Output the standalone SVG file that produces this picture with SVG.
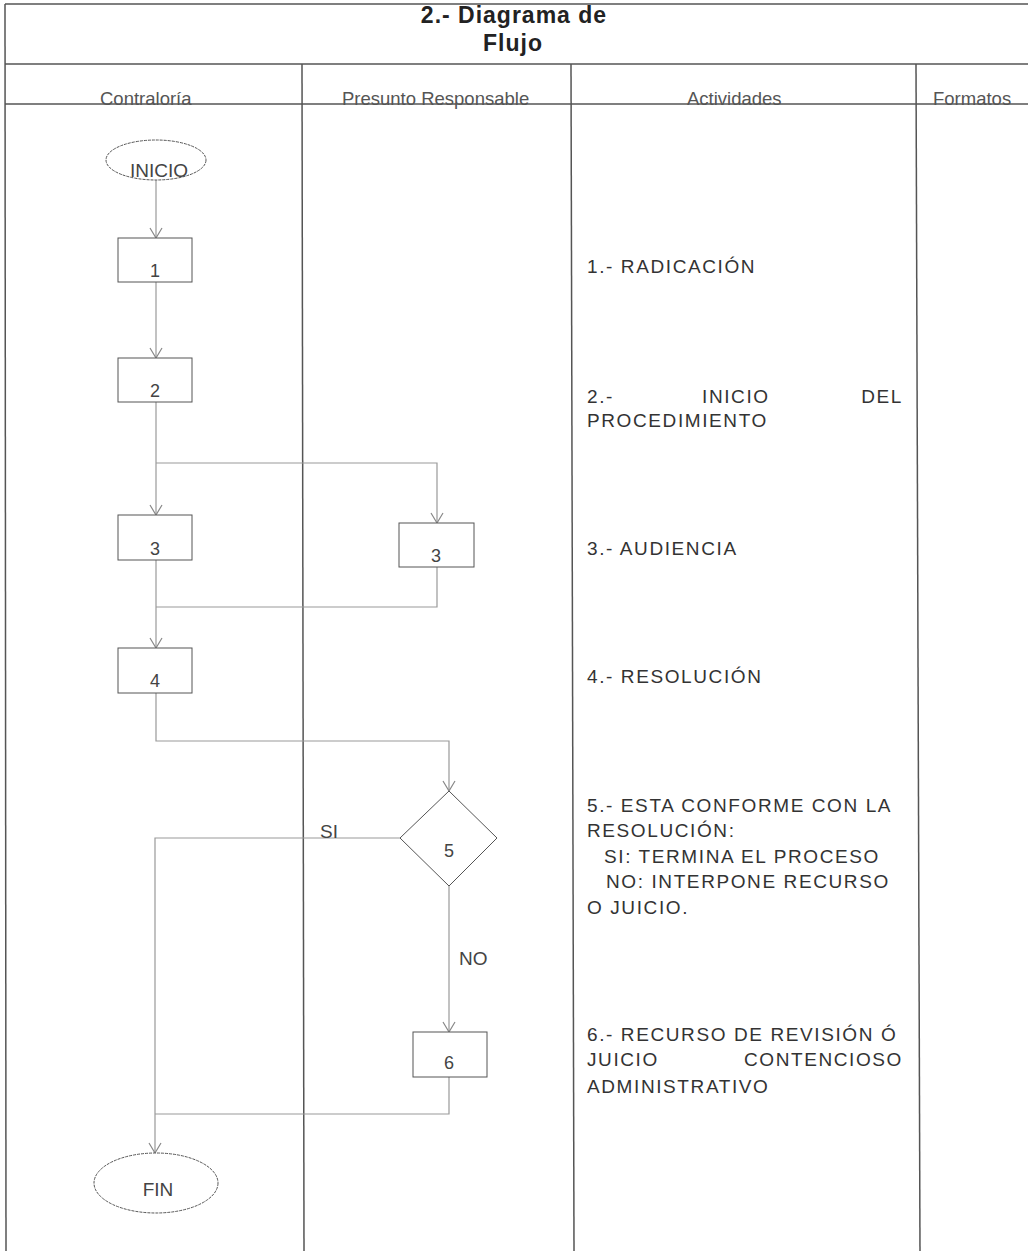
<svg xmlns="http://www.w3.org/2000/svg" width="1028" height="1251" viewBox="0 0 1028 1251">
<style>
.frame{stroke:#555;stroke-width:1.5;fill:none}
.box{fill:#fff;stroke:#555;stroke-width:1}
.conn{fill:none;stroke:#999;stroke-width:1.2}
.title{font-family:"Liberation Sans",Arial,sans-serif;font-size:23px;font-weight:bold;fill:#222;letter-spacing:1px}
.hdr{font-family:"Liberation Sans",Arial,sans-serif;font-size:18.5px;fill:#555}
.lbl{font-family:"Liberation Sans",Arial,sans-serif;font-size:18px;fill:#444}
.term{font-family:"Liberation Sans",Arial,sans-serif;font-size:19px;fill:#444}
.act{font-family:"Liberation Sans",Arial,sans-serif;font-size:19px;fill:#333;letter-spacing:1.6px}
</style>
<defs>
<marker id="arr" viewBox="-11 -7 12 14" refX="0" refY="0" markerWidth="12" markerHeight="14" markerUnits="userSpaceOnUse" orient="auto">
<path d="M-10,-6 L0,0 L-10,6" fill="none" stroke="#888" stroke-width="1.2"/>
</marker>
</defs>
<rect width="1028" height="1251" fill="#fff"/>
<g id="table">
<line class="frame" x1="5" y1="4" x2="1028" y2="4"/>
<line class="frame" x1="5" y1="4" x2="6" y2="1251"/>
<line class="frame" x1="5" y1="64" x2="1028" y2="64"/>
<line class="frame" x1="5" y1="104" x2="1028" y2="104"/>
<line class="frame" x1="302" y1="64" x2="304" y2="1251"/>
<line class="frame" x1="571" y1="64" x2="574" y2="1251"/>
<line class="frame" x1="916" y1="64" x2="920" y2="1251"/>
<text class="title" x="514" y="23" text-anchor="middle">2.- Diagrama de</text>
<text class="title" x="513" y="51" text-anchor="middle">Flujo</text>
<text class="hdr" x="100" y="105">Contraloría</text>
<text class="hdr" x="342" y="105">Presunto Responsable</text>
<text class="hdr" x="687" y="105">Actividades</text>
<text class="hdr" x="933" y="105">Formatos</text>
</g>
<g id="connectors">
<path class="conn" d="M156,180 V238" marker-end="url(#arr)"/>
<path class="conn" d="M156,282 V358" marker-end="url(#arr)"/>
<path class="conn" d="M156,402 V515" marker-end="url(#arr)"/>
<path class="conn" d="M156,463 H437 V523" marker-end="url(#arr)"/>
<path class="conn" d="M156,560 V648" marker-end="url(#arr)"/>
<path class="conn" d="M437,567 V607 H156"/>
<path class="conn" d="M156,693 V741 H449 V791" marker-end="url(#arr)"/>
<path class="conn" d="M400,838 H155 V1153" marker-end="url(#arr)"/>
<path class="conn" d="M449,886 V1032" marker-end="url(#arr)"/>
<path class="conn" d="M449,1077 V1114 H155"/>
<text class="term" x="320" y="838">SI</text>
<text class="term" x="459" y="965">NO</text>
</g>
<g id="inicio">
<ellipse class="box" cx="156" cy="160" rx="50" ry="20" stroke-dasharray="3,1"/>
<text class="term" x="159" y="177" text-anchor="middle">INICIO</text>
</g>
<g id="n1"><rect class="box" x="118" y="238" width="74" height="44"/><text class="lbl" x="155" y="277" text-anchor="middle">1</text></g>
<g id="n2"><rect class="box" x="118" y="358" width="74" height="44"/><text class="lbl" x="155" y="397" text-anchor="middle">2</text></g>
<g id="n3a"><rect class="box" x="118" y="515" width="74" height="45"/><text class="lbl" x="155" y="555" text-anchor="middle">3</text></g>
<g id="n3b"><rect class="box" x="399" y="523" width="75" height="44"/><text class="lbl" x="436" y="562" text-anchor="middle">3</text></g>
<g id="n4"><rect class="box" x="118" y="648" width="74" height="45"/><text class="lbl" x="155" y="687" text-anchor="middle">4</text></g>
<g id="n5"><path class="box" d="M449,791 L497,838 L449,886 L400,838 Z"/><text class="lbl" x="449" y="857" text-anchor="middle">5</text></g>
<g id="n6"><rect class="box" x="413" y="1032" width="74" height="45"/><text class="lbl" x="449" y="1069" text-anchor="middle">6</text></g>
<g id="fin">
<ellipse class="box" cx="156" cy="1183" rx="62" ry="30" stroke-dasharray="3,1"/>
<text class="term" x="158" y="1196" text-anchor="middle" font-size="21">FIN</text>
</g>
<g id="activities">
<text class="act" x="587" y="273">1.- RADICACIÓN</text>
<text class="act" x="587" y="403">2.-</text>
<text class="act" x="702" y="403">INICIO</text>
<text class="act" x="903" y="403" text-anchor="end">DEL</text>
<text class="act" x="587" y="427">PROCEDIMIENTO</text>
<text class="act" x="587" y="555">3.- AUDIENCIA</text>
<text class="act" x="587" y="683">4.- RESOLUCIÓN</text>
<text class="act" x="587" y="812">5.- ESTA CONFORME CON LA</text>
<text class="act" x="587" y="837">RESOLUCIÓN:</text>
<text class="act" x="604" y="863">SI: TERMINA EL PROCESO</text>
<text class="act" x="606" y="888">NO: INTERPONE RECURSO</text>
<text class="act" x="587" y="914">O JUICIO.</text>
<text class="act" x="587" y="1041">6.- RECURSO DE REVISIÓN Ó</text>
<text class="act" x="587" y="1066">JUICIO</text>
<text class="act" x="903" y="1066" text-anchor="end">CONTENCIOSO</text>
<text class="act" x="587" y="1093">ADMINISTRATIVO</text>
</g>
</svg>
